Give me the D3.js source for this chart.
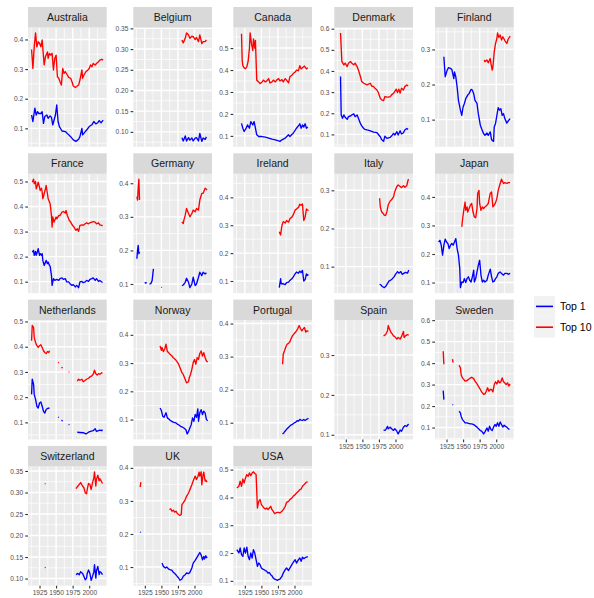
<!DOCTYPE html>
<html>
<head>
<meta charset="utf-8">
<script src="https://cdn.jsdelivr.net/npm/d3@7"></script>
<style>
  body { margin: 0; background: #ffffff; }
  svg { display: block; font-family: "Liberation Sans", Arial, Helvetica, sans-serif; }
</style>
</head>
<body>
<svg id="chart" width="594" height="598"></svg>
<script>
// ---- Data: income shares of the top 1% and top 10% by country -----------
const countries = ["Australia", "Belgium", "Canada", "Denmark", "Finland",
  "France", "Germany", "Ireland", "Italy", "Japan",
  "Netherlands", "Norway", "Portugal", "Spain", "Sweden",
  "Switzerland", "UK", "USA"];

const seriesNames = ["Top 1", "Top 10"];

// [year, share] pairs; null marks a break in the series
const top1 = [
  // Australia
  [[1913,.145],[1915,.123],[1918,.168],[1920,.145],[1922,.156],[1924,.15],[1927,.15],[1929,.156],[1931,.117],[1933,.14],[1936,.145],[1938,.134],[1941,.142],[1943,.137],[1945,.112],[1947,.128],[1949,.145],[1951,.179],[1953,.123],[1955,.106],[1959,.091],[1964,.089],[1969,.078],[1972,.072],[1976,.061],[1980,.056],[1984,.063],[1986,.072],[1989,.1],[1990,.078],[1994,.089],[1997,.097],[2000,.106],[2004,.112],[2007,.123],[2010,.115],[2013,.119],[2015,.126],[2018,.119],[2021,.128]],
  // Belgium
  [[1981,.086],[1983,.078],[1986,.09],[1988,.078],[1991,.086],[1993,.08],[1996,.085],[1998,.078],[2001,.085],[2003,.086],[2006,.078],[2008,.096],[2011,.077],[2013,.085],[2016,.082],[2018,.088]],
  // Canada
  [[1920,.157],[1922,.135],[1924,.12],[1927,.135],[1929,.15],[1932,.135],[1934,.165],[1937,.15],[1939,.165],[1941,.135],[1943,.105],[1946,.097],[1951,.097],[1956,.094],[1961,.09],[1966,.085],[1971,.082],[1976,.077],[1978,.075],[1981,.082],[1986,.09],[1991,.105],[1993,.097],[1998,.112],[2003,.135],[2007,.15],[2008,.155],[2010,.135],[2012,.15],[2014,.14],[2016,.155],[2018,.135],[2020,.14]],
  // Denmark
  [[1917,.374],[1918,.192],[1920,.176],[1922,.192],[1924,.181],[1927,.171],[1929,.184],[1932,.187],[1934,.192],[1937,.197],[1939,.184],[1942,.192],[1944,.176],[1947,.152],[1949,.14],[1952,.128],[1954,.124],[1957,.121],[1962,.117],[1967,.111],[1972,.108],[1977,.089],[1979,.076],[1982,.067],[1984,.092],[1987,.081],[1992,.086],[1994,.092],[1997,.105],[1999,.097],[2002,.113],[2004,.097],[2007,.117],[2009,.102],[2012,.108],[2014,.121],[2017,.128],[2019,.124]],
  // Finland
  [[1921,.279],[1923,.222],[1926,.241],[1928,.248],[1931,.246],[1933,.243],[1936,.217],[1937,.236],[1939,.222],[1941,.193],[1943,.155],[1946,.127],[1948,.112],[1950,.136],[1952,.146],[1954,.16],[1957,.17],[1959,.174],[1962,.186],[1964,.184],[1966,.174],[1968,.155],[1971,.146],[1973,.117],[1976,.084],[1978,.074],[1981,.06],[1983,.055],[1986,.062],[1988,.055],[1991,.065],[1993,.043],[1996,.038],[1997,.079],[1999,.089],[2001,.112],[2003,.134],[2005,.127],[2007,.131],[2009,.112],[2011,.117],[2013,.103],[2016,.09],[2018,.096],[2021,.103]],
  // France
  [[1914,.218],[1916,.225],[1917,.205],[1919,.221],[1920,.205],[1922,.221],[1923,.232],[1925,.205],[1926,.212],[1928,.205],[1929,.212],[1930,.185],[1932,.165],[1934,.178],[1935,.185],[1937,.172],[1938,.178],[1940,.165],[1941,.162],[1943,.125],[1944,.085],[1946,.112],[1948,.105],[1951,.109],[1954,.105],[1956,.112],[1959,.115],[1961,.109],[1964,.112],[1966,.099],[1969,.099],[1971,.092],[1974,.085],[1976,.088],[1979,.079],[1981,.085],[1984,.076],[1986,.099],[1989,.101],[1991,.096],[1994,.099],[1996,.105],[1999,.101],[2001,.109],[2004,.112],[2006,.115],[2009,.105],[2011,.112],[2014,.101],[2016,.105],[2019,.099],[2020,.096]],
  // Germany
  [[1913,.175],[1914,.2],[1915,.215],[1916,.19],[1917,.195],null,[1925,.105],[1926,.103],[1928,.104],null,[1932,.1],[1934,.101],[1936,.11],[1938,.145],null,[1950,.09],[1951,.09],null,[1981,.095],[1983,.097],[1986,.105],[1988,.117],[1991,.105],[1993,.089],[1996,.1],[1998,.12],[2001,.095],[2003,.1],[2006,.12],[2008,.135],[2011,.125],[2013,.135],[2016,.13],[2018,.133]],
  // Ireland
  [[1977,.076],[1979,.108],[1980,.09],[1983,.09],[1986,.087],[1988,.094],[1991,.096],[1993,.102],[1996,.108],[1998,.114],[2001,.126],[2003,.132],[2006,.128],[2008,.135],[2010,.13],[2012,.138],[2014,.1],[2016,.105],[2018,.125],[2021,.12]],
  // Italy
  [[1976,.054],[1978,.052],[1980,.048],[1983,.045],[1985,.048],[1988,.056],[1990,.062],[1993,.065],[1995,.068],[1998,.074],[2000,.08],[2003,.087],[2005,.083],[2008,.087],[2010,.08],[2013,.083],[2015,.085],[2018,.083],[2020,.091]],
  // Japan
  [[1913,.242],[1915,.248],[1917,.231],[1919,.196],[1921,.231],[1923,.252],[1925,.242],[1927,.237],[1929,.219],[1931,.231],[1933,.237],[1935,.231],[1937,.242],[1939,.254],[1941,.219],[1943,.196],[1945,.149],[1946,.082],[1948,.102],[1950,.1],[1952,.114],[1954,.1],[1956,.114],[1958,.12],[1960,.108],[1962,.102],[1964,.12],[1966,.143],[1967,.102],[1969,.114],[1971,.137],[1973,.161],[1975,.178],[1977,.126],[1979,.102],[1981,.108],[1983,.102],[1986,.108],[1988,.126],[1991,.147],[1993,.12],[1995,.102],[1997,.105],[1999,.114],[2001,.12],[2003,.132],[2006,.137],[2008,.132],[2011,.126],[2013,.132],[2016,.132],[2018,.129],[2021,.132]],
  // Netherlands
  [[1913,.211],[1914,.271],[1916,.251],[1917,.211],[1919,.191],[1921,.164],[1923,.157],[1925,.177],[1927,.181],[1929,.164],[1931,.144],[1933,.137],[1935,.151],[1937,.155],[1940,.157],null,[1953,.121],[1954,.119],null,[1958,.108],[1960,.106],null,[1969,.092],[1970,.09],null,[1982,.061],[1986,.06],[1991,.059],[1995,.054],[1999,.061],[2002,.064],[2006,.067],[2009,.075],[2011,.064],[2014,.067],[2016,.069],[2019,.067],[2020,.071]],
  // Norway
  [[1948,.141],[1950,.132],[1952,.112],[1954,.108],[1957,.124],[1959,.106],[1962,.1],[1964,.096],[1967,.092],[1969,.09],[1972,.088],[1974,.084],[1977,.08],[1979,.076],[1982,.073],[1984,.07],[1987,.064],[1989,.049],[1991,.058],[1993,.07],[1995,.082],[1997,.106],[1999,.094],[2001,.118],[2003,.108],[2005,.138],[2006,.094],[2008,.124],[2010,.135],[2012,.118],[2014,.13],[2016,.124],[2018,.1],[2020,.096]],
  // Portugal
  [[1982,.066],[1984,.07],[1986,.075],[1988,.08],[1990,.084],[1992,.088],[1994,.092],[1996,.094],[1998,.097],[2000,.1],[2002,.102],[2004,.106],[2006,.105],[2008,.11],[2010,.108],[2012,.107],[2014,.11],[2016,.107],[2018,.11],[2020,.112],[2021,.114]],
  // Spain
  [[1982,.111],[1985,.112],[1988,.121],[1989,.115],[1992,.119],[1994,.115],[1997,.111],[1999,.115],[2002,.109],[2004,.102],[2007,.112],[2009,.109],[2012,.119],[2014,.123],[2017,.121],[2019,.126],[2020,.125]],
  // Sweden
  [[1920,.272],[1921,.23],null,[1934,.207],[1935,.205],null,[1944,.176],[1946,.168],[1947,.153],[1949,.137],[1951,.13],[1953,.122],[1956,.122],[1958,.119],[1961,.117],[1963,.117],[1966,.114],[1968,.109],[1971,.102],[1973,.095],[1976,.086],[1978,.083],[1981,.07],[1983,.08],[1986,.098],[1988,.083],[1990,.106],[1992,.091],[1994,.086],[1996,.102],[1998,.114],[2000,.106],[2002,.122],[2004,.106],[2006,.126],[2008,.114],[2010,.102],[2012,.111],[2014,.105],[2016,.102],[2018,.095],[2020,.091]],
  // Switzerland
  [[1933,.126],[1934,.125],null,[1980,.109],[1983,.112],[1985,.109],[1987,.116],[1990,.112],[1992,.105],[1994,.097],[1996,.101],[1997,.112],[1999,.12],[2001,.112],[2003,.096],[2005,.105],[2007,.116],[2008,.132],[2010,.101],[2011,.118],[2013,.128],[2015,.109],[2016,.116],[2018,.114],[2020,.109]],
  // UK
  [[1918,.206],[1919,.205],null,[1951,.112],[1953,.102],[1956,.097],[1958,.1],[1961,.094],[1963,.092],[1966,.09],[1968,.084],[1971,.079],[1973,.074],[1976,.067],[1978,.06],[1981,.064],[1983,.072],[1986,.077],[1988,.082],[1991,.08],[1993,.084],[1996,.097],[1998,.112],[2001,.12],[2003,.127],[2006,.137],[2008,.144],[2010,.137],[2012,.122],[2014,.132],[2015,.124],[2017,.134],[2019,.127]],
  // USA
  [[1913,.212],[1916,.2],[1918,.218],[1920,.194],[1922,.188],[1924,.218],[1926,.2],[1928,.221],[1930,.188],[1932,.176],[1934,.2],[1936,.182],[1938,.212],[1940,.2],[1942,.176],[1944,.152],[1946,.164],[1948,.158],[1950,.146],[1952,.142],[1954,.14],[1956,.137],[1958,.134],[1960,.128],[1962,.13],[1964,.122],[1966,.118],[1968,.11],[1970,.106],[1972,.104],[1974,.102],[1976,.104],[1978,.106],[1981,.116],[1983,.128],[1986,.14],[1988,.146],[1991,.137],[1993,.146],[1996,.158],[1998,.166],[2001,.176],[2003,.164],[2006,.176],[2008,.182],[2010,.17],[2012,.185],[2014,.18],[2016,.183],[2018,.185],[2020,.187]]
];

const top10 = [
  // Australia
  [[1913,.366],[1915,.302],[1917,.375],[1919,.422],[1921,.375],[1923,.392],[1925,.387],[1927,.375],[1929,.398],[1931,.342],[1932,.314],[1934,.342],[1937,.358],[1938,.336],[1940,.353],[1942,.347],[1944,.353],[1946,.297],[1948,.336],[1950,.347],[1952,.274],[1954,.269],[1956,.257],[1958,.246],[1960,.302],[1962,.286],[1964,.291],[1967,.28],[1969,.272],[1972,.269],[1974,.257],[1976,.243],[1979,.238],[1981,.241],[1984,.246],[1986,.263],[1989,.297],[1990,.269],[1992,.28],[1995,.291],[1998,.297],[2000,.302],[2002,.314],[2004,.308],[2006,.319],[2009,.314],[2011,.319],[2014,.325],[2016,.33],[2019,.333],[2021,.33]],
  // Belgium
  [[1981,.322],[1983,.315],[1986,.326],[1988,.339],[1991,.334],[1993,.326],[1996,.331],[1998,.33],[2001,.323],[2003,.328],[2006,.318],[2008,.334],[2011,.313],[2013,.318],[2016,.318],[2018,.322]],
  // Canada
  [[1920,.565],[1921,.444],[1922,.42],[1924,.41],[1926,.406],[1928,.414],[1930,.44],[1932,.5],[1933,.569],[1935,.52],[1937,.489],[1938,.542],[1940,.5],[1941,.535],[1943,.354],[1946,.346],[1948,.338],[1951,.346],[1953,.354],[1956,.346],[1958,.35],[1961,.361],[1963,.341],[1966,.346],[1968,.354],[1971,.346],[1973,.354],[1976,.361],[1978,.35],[1981,.356],[1983,.346],[1986,.361],[1988,.354],[1991,.341],[1993,.369],[1996,.376],[1998,.384],[2001,.391],[2003,.4],[2006,.397],[2008,.42],[2010,.405],[2012,.41],[2015,.418],[2018,.405],[2020,.41]],
  // Denmark
  [[1917,.58],[1919,.445],[1922,.429],[1924,.437],[1927,.421],[1929,.437],[1932,.445],[1934,.437],[1937,.429],[1939,.437],[1942,.421],[1944,.405],[1947,.374],[1949,.35],[1952,.342],[1957,.334],[1962,.342],[1964,.329],[1967,.326],[1969,.318],[1972,.31],[1974,.298],[1977,.271],[1979,.263],[1982,.26],[1984,.279],[1987,.276],[1989,.276],[1992,.279],[1994,.287],[1997,.295],[1999,.303],[2001,.314],[2003,.298],[2005,.314],[2007,.295],[2009,.318],[2012,.31],[2014,.326],[2017,.334],[2019,.329]],
  // Finland
  [[1982,.27],[1983,.265],[1986,.27],[1988,.262],[1991,.274],[1992,.26],[1994,.241],[1995,.25],[1997,.293],[1999,.317],[2001,.331],[2002,.347],[2004,.334],[2006,.341],[2008,.327],[2010,.336],[2012,.329],[2014,.322],[2016,.317],[2018,.329],[2021,.338]],
  // France
  [[1914,.497],[1916,.509],[1917,.491],[1919,.5],[1920,.471],[1922,.487],[1923,.497],[1925,.477],[1926,.464],[1928,.473],[1929,.457],[1930,.431],[1932,.451],[1934,.471],[1935,.484],[1937,.451],[1938,.431],[1940,.418],[1941,.411],[1943,.364],[1944,.318],[1945,.358],[1947,.338],[1950,.358],[1951,.351],[1954,.364],[1956,.364],[1959,.378],[1961,.38],[1964,.374],[1965,.384],[1967,.364],[1970,.344],[1972,.338],[1975,.324],[1977,.318],[1980,.305],[1982,.311],[1984,.301],[1986,.325],[1989,.327],[1991,.325],[1994,.331],[1996,.335],[1999,.331],[2001,.335],[2004,.338],[2006,.34],[2009,.338],[2011,.331],[2014,.335],[2016,.327],[2019,.325],[2020,.322]],
  // Germany
  [[1913,.36],[1914,.35],[1915,.385],[1916,.412],[1917,.35],null,[1981,.285],[1983,.28],[1984,.29],[1986,.305],[1988,.325],[1991,.31],[1993,.3],[1996,.31],[1998,.32],[2001,.315],[2003,.325],[2006,.32],[2008,.35],[2011,.37],[2013,.37],[2014,.375],[2016,.385],[2019,.38]],
  // Ireland
  [[1938,.465],null,[1977,.277],[1979,.265],[1981,.299],[1983,.313],[1986,.308],[1988,.317],[1991,.311],[1993,.323],[1996,.329],[1998,.337],[2001,.355],[2003,.358],[2006,.364],[2008,.375],[2010,.372],[2012,.376],[2014,.317],[2016,.329],[2018,.358],[2021,.352]],
  // Italy
  [[1976,.279],[1977,.257],[1979,.244],[1981,.24],[1983,.235],[1985,.234],[1987,.244],[1989,.262],[1992,.272],[1994,.275],[1997,.283],[1999,.297],[2002,.31],[2004,.314],[2007,.31],[2009,.307],[2012,.312],[2014,.308],[2017,.312],[2019,.327],[2020,.329]],
  // Japan
  [[1948,.295],[1950,.336],[1951,.353],[1953,.382],[1954,.353],[1956,.365],[1957,.347],[1959,.359],[1961,.371],[1963,.377],[1965,.347],[1967,.33],[1969,.327],[1971,.359],[1972,.412],[1974,.423],[1975,.377],[1977,.353],[1979,.365],[1981,.359],[1983,.365],[1986,.371],[1988,.377],[1991,.412],[1993,.417],[1995,.365],[1997,.371],[1999,.38],[2001,.394],[2003,.423],[2006,.447],[2008,.462],[2011,.447],[2013,.45],[2016,.447],[2018,.45],[2021,.45]],
  // Netherlands
  [[1913,.424],[1914,.484],[1916,.477],[1917,.437],[1919,.417],[1921,.404],[1923,.397],[1925,.404],[1927,.408],[1929,.397],[1931,.384],[1933,.377],[1935,.373],[1937,.381],[1939,.377],[1940,.384],null,[1953,.338],[1954,.336],null,[1958,.318],[1960,.316],null,[1969,.301],[1970,.299],null,[1982,.264],[1984,.271],[1986,.267],[1989,.271],[1991,.261],[1994,.267],[1996,.271],[1999,.275],[2001,.28],[2004,.284],[2006,.291],[2008,.307],[2010,.293],[2012,.288],[2014,.293],[2016,.291],[2019,.297],[2020,.295]],
  // Norway
  [[1938,.433],null,[1948,.361],[1950,.345],[1951,.355],[1953,.341],[1955,.349],[1957,.367],[1959,.341],[1961,.337],[1963,.331],[1966,.325],[1968,.319],[1971,.313],[1973,.307],[1976,.296],[1978,.284],[1981,.266],[1983,.26],[1986,.242],[1988,.23],[1991,.234],[1992,.248],[1994,.26],[1996,.278],[1998,.302],[2000,.313],[2002,.296],[2004,.319],[2006,.313],[2008,.334],[2010,.343],[2012,.325],[2014,.337],[2016,.319],[2018,.307],[2020,.304]],
  // Portugal
  [[1982,.277],[1983,.307],[1985,.318],[1987,.33],[1989,.338],[1991,.34],[1993,.345],[1995,.355],[1997,.363],[1999,.368],[2001,.373],[2003,.378],[2005,.385],[2007,.394],[2009,.385],[2011,.378],[2013,.383],[2015,.388],[2017,.374],[2019,.378],[2021,.376]],
  // Spain
  [[1982,.348],[1985,.351],[1988,.361],[1989,.374],[1991,.365],[1993,.357],[1995,.353],[1997,.348],[1999,.346],[2002,.34],[2004,.344],[2007,.34],[2009,.346],[2012,.359],[2013,.344],[2015,.348],[2018,.351],[2020,.35]],
  // Sweden
  [[1916,.575],null,[1920,.455],[1921,.395],null,[1934,.418],[1935,.402],null,[1944,.39],[1946,.378],[1947,.347],[1949,.331],[1951,.324],[1953,.316],[1956,.319],[1958,.324],[1961,.331],[1963,.334],[1966,.328],[1968,.316],[1971,.303],[1973,.293],[1976,.277],[1978,.266],[1981,.254],[1983,.257],[1985,.269],[1987,.285],[1989,.269],[1991,.277],[1993,.277],[1995,.266],[1997,.3],[1999,.313],[2001,.303],[2003,.319],[2005,.308],[2007,.313],[2009,.331],[2011,.313],[2013,.308],[2015,.3],[2017,.308],[2019,.293],[2021,.303]],
  // Switzerland
  [[1933,.321],[1934,.32],null,[1980,.309],[1983,.315],[1985,.319],[1987,.323],[1990,.315],[1992,.311],[1994,.299],[1996,.297],[1997,.307],[1999,.321],[2001,.319],[2003,.307],[2005,.323],[2007,.334],[2008,.348],[2010,.315],[2011,.331],[2013,.34],[2015,.327],[2016,.332],[2018,.327],[2020,.321]],
  // UK
  [[1918,.342],[1919,.357],null,[1962,.274],[1964,.276],[1966,.269],[1968,.272],[1970,.266],[1972,.269],[1974,.262],[1976,.259],[1978,.256],[1980,.259],[1981,.289],[1983,.294],[1986,.304],[1988,.314],[1991,.324],[1993,.334],[1996,.349],[1998,.36],[2001,.375],[2003,.365],[2005,.373],[2007,.387],[2008,.375],[2010,.388],[2011,.349],[2013,.38],[2014,.387],[2016,.36],[2017,.363],[2019,.357]],
  // USA
  [[1913,.434],[1916,.44],[1918,.458],[1920,.44],[1922,.466],[1924,.452],[1926,.47],[1928,.482],[1930,.476],[1932,.488],[1934,.478],[1936,.488],[1938,.492],[1940,.486],[1942,.482],[1944,.362],[1946,.386],[1948,.392],[1950,.374],[1952,.368],[1954,.362],[1956,.358],[1958,.362],[1960,.356],[1962,.362],[1964,.368],[1966,.356],[1968,.35],[1970,.342],[1972,.344],[1974,.346],[1976,.346],[1978,.344],[1981,.35],[1983,.356],[1986,.368],[1988,.382],[1991,.386],[1993,.392],[1996,.398],[1998,.404],[2001,.41],[2003,.416],[2006,.422],[2008,.428],[2010,.43],[2012,.44],[2014,.445],[2016,.45],[2018,.455],[2020,.456]]
];

// y tick labels for each panel (free scales)
const yTickLabels = [
  ["0.1","0.2","0.3","0.4"],
  ["0.10","0.15","0.20","0.25","0.30","0.35"],
  ["0.1","0.2","0.3","0.4","0.5"],
  ["0.1","0.2","0.3","0.4","0.5","0.6"],
  ["0.1","0.2","0.3"],
  ["0.1","0.2","0.3","0.4","0.5"],
  ["0.1","0.2","0.3","0.4"],
  ["0.1","0.2","0.3","0.4"],
  ["0.1","0.2","0.3"],
  ["0.1","0.2","0.3","0.4"],
  ["0.1","0.2","0.3","0.4","0.5"],
  ["0.1","0.2","0.3","0.4"],
  ["0.1","0.2","0.3","0.4"],
  ["0.1","0.2","0.3"],
  ["0.1","0.2","0.3","0.4","0.5","0.6"],
  ["0.10","0.15","0.20","0.25","0.30","0.35"],
  ["0.1","0.2","0.3","0.4"],
  ["0.1","0.2","0.3","0.4","0.5"]
];

const xTickLabels = ["1925", "1950", "1975", "2000"];

// ---- Appearance --------------------------------------------------------
const seriesColors = ["#0000FF", "#FF0000"];
const nCols = 5;
const colLeft = [28, 133.3, 233.3, 334.3, 435];
const panelW = 78.7;
const firstStripTop = 7, rowStep = 146.3, stripH = 20.5, plotH = 119.3;
const tickLen = 2.75, tickPad = 2.2;
const axisFont = 6.6, stripFont = 10.5, legendFont = 10.5;

const svg = d3.select("#chart");

const seriesData = [top1, top10];

// split a series into drawable runs (breaks at null)
function runs(arr) {
  const out = [];
  let cur = [];
  arr.forEach(d => {
    if (d === null) { if (cur.length) out.push(cur); cur = []; }
    else cur.push(d);
  });
  if (cur.length) out.push(cur);
  return out;
}

function expand(ext, frac) {
  const r = ext[1] - ext[0];
  return [ext[0] - r * frac, ext[1] + r * frac];
}

// shared x scale
const allYears = seriesData.flatMap(s => s.flatMap(c => c.filter(d => d).map(d => d[0])));
const xDomain = expand(d3.extent(allYears), 0.05);
const x = d3.scaleLinear().domain(xDomain).range([0, panelW]);
const xMajor = xTickLabels.map(Number);
const xStep = xMajor[1] - xMajor[0];
const xMinor = [xMajor[0] - xStep / 2, ...xMajor.map(v => v + xStep / 2)]
  .filter(v => v >= xDomain[0] && v <= xDomain[1]);

countries.forEach((name, i) => {
  const col = i % nCols, row = Math.floor(i / nCols);
  const left = colLeft[col];
  const stripTop = firstStripTop + row * rowStep;
  const plotTop = stripTop + stripH;
  const hasXAxis = i + nCols >= countries.length;

  const values = seriesData.flatMap(s => s[i].filter(d => d).map(d => d[1]));
  const yDomain = expand(d3.extent(values), 0.05);
  const y = d3.scaleLinear().domain(yDomain).range([plotH, 0]);

  const yMajor = yTickLabels[i].map(Number);
  const yStep = yMajor[1] - yMajor[0];
  const yMinor = [yMajor[0] - yStep / 2, ...yMajor.map(v => v + yStep / 2)]
    .filter(v => v >= yDomain[0] && v <= yDomain[1]);

  const g = svg.append("g").attr("transform", `translate(${left},${plotTop})`);

  // panel background and grid
  g.append("rect").attr("width", panelW).attr("height", plotH).attr("fill", "#EBEBEB");
  const grid = g.append("g").attr("stroke", "#FFFFFF").attr("fill", "none");
  grid.selectAll("line.ymin").data(yMinor).join("line")
    .attr("x1", 0).attr("x2", panelW).attr("y1", d => y(d)).attr("y2", d => y(d))
    .attr("stroke-width", 0.7);
  grid.selectAll("line.xmin").data(xMinor).join("line")
    .attr("y1", 0).attr("y2", plotH).attr("x1", d => x(d)).attr("x2", d => x(d))
    .attr("stroke-width", 0.7);
  grid.selectAll("line.ymaj").data(yMajor).join("line")
    .attr("x1", 0).attr("x2", panelW).attr("y1", d => y(d)).attr("y2", d => y(d))
    .attr("stroke-width", 1.4);
  grid.selectAll("line.xmaj").data(xMajor).join("line")
    .attr("y1", 0).attr("y2", plotH).attr("x1", d => x(d)).attr("x2", d => x(d))
    .attr("stroke-width", 1.4);

  // series lines
  const line = d3.line().x(d => x(d[0])).y(d => y(d[1]));
  seriesData.forEach((s, k) => {
    runs(s[i]).filter(r => r.length > 1).forEach(r => {
      g.append("path").attr("d", line(r))
        .attr("fill", "none").attr("stroke", seriesColors[k])
        .attr("stroke-width", 1.35).attr("stroke-linejoin", "round");
    });
  });

  // strip
  svg.append("rect").attr("x", left).attr("y", stripTop)
    .attr("width", panelW).attr("height", stripH).attr("fill", "#D9D9D9");
  svg.append("text").attr("x", left + panelW / 2).attr("y", stripTop + stripH / 2)
    .attr("dy", "0.35em").attr("text-anchor", "middle")
    .attr("font-size", stripFont).attr("fill", "#1A1A1A").text(name);

  // y axis
  const yAxis = d3.axisLeft(y).tickValues(yMajor)
    .tickFormat((d, j) => yTickLabels[i][j]).tickSize(tickLen).tickPadding(tickPad);
  const ya = g.append("g").call(yAxis);
  ya.select(".domain").remove();
  ya.selectAll(".tick line").attr("stroke", "#333333").attr("stroke-width", 1.1);
  ya.selectAll(".tick text").attr("fill", "#4D4D4D").attr("font-size", axisFont);
  ya.attr("font-family", null);

  // x axis on the lowest panel of each column
  if (hasXAxis) {
    const xAxis = d3.axisBottom(x).tickValues(xMajor)
      .tickFormat((d, j) => xTickLabels[j]).tickSize(tickLen).tickPadding(tickPad);
    const xa = g.append("g").attr("transform", `translate(0,${plotH})`).call(xAxis);
    xa.select(".domain").remove();
    xa.selectAll(".tick line").attr("stroke", "#333333").attr("stroke-width", 1.1);
    xa.selectAll(".tick text").attr("fill", "#4D4D4D").attr("font-size", axisFont);
    xa.attr("font-family", null);
  }
});

// legend
const legendX = 534, legendY = 296, keyW = 21, keyH = 20.8;
const legend = svg.append("g").attr("transform", `translate(${legendX},${legendY})`);
seriesNames.forEach((nm, k) => {
  const ky = k * keyH;
  legend.append("rect").attr("x", 0).attr("y", ky).attr("width", keyW).attr("height", keyH)
    .attr("fill", "#F2F2F2");
  legend.append("line").attr("x1", 2).attr("x2", keyW - 2)
    .attr("y1", ky + keyH / 2).attr("y2", ky + keyH / 2)
    .attr("stroke", seriesColors[k]).attr("stroke-width", 1.6);
  legend.append("text").attr("x", keyW + 5).attr("y", ky + keyH / 2).attr("dy", "0.35em")
    .attr("font-size", legendFont).attr("fill", "#000000").text(nm);
});
</script>
</body>
</html>
